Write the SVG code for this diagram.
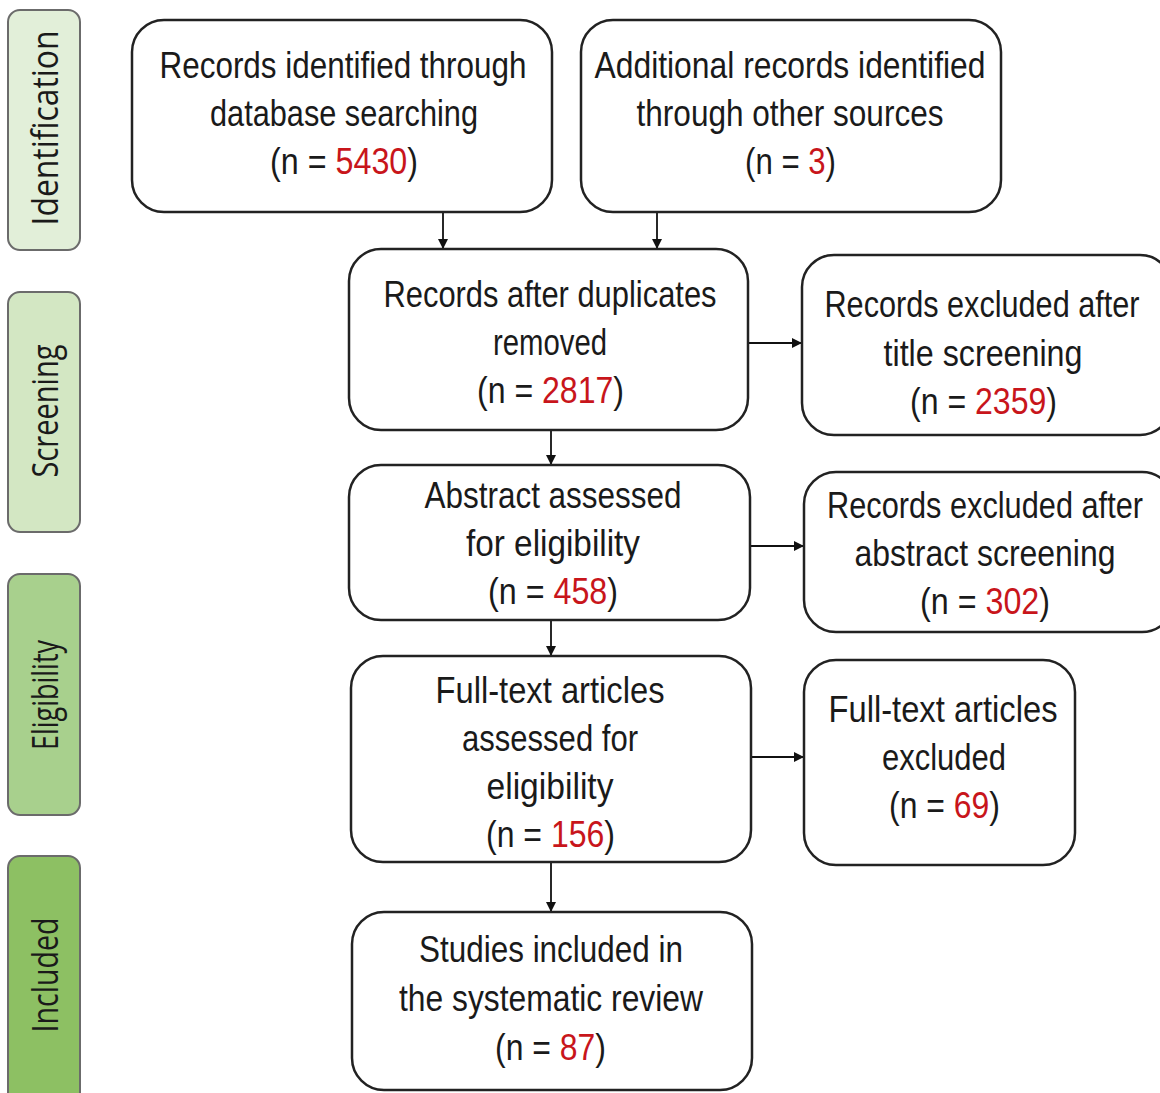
<svg xmlns="http://www.w3.org/2000/svg" width="1160" height="1093" viewBox="0 0 1160 1093">
<style>
.node{fill:#fff;stroke:#222;stroke-width:2.5}
.phase{stroke:#6b6b6b;stroke-width:2}
.t{font-family:"Liberation Sans Narrow","Liberation Sans",Arial,sans-serif;font-size:37px;fill:#1a1a1a;text-anchor:middle}
.s{font-family:"Liberation Sans Narrow","Liberation Sans",Arial,sans-serif;font-size:37px;fill:#1a1a1a;text-anchor:start}
.n{fill:#c8151b}
.pt{font-family:"Open Sans","Liberation Sans",sans-serif;font-size:36px;fill:#1a1a1a;text-anchor:middle}
.edge{stroke:#111;stroke-width:1.8;fill:none;marker-end:url(#ah)}
</style>
<defs>
<marker id="ah" viewBox="0 0 10 10" refX="10" refY="5" markerWidth="10" markerHeight="10" markerUnits="userSpaceOnUse" orient="auto">
<path d="M0,0 L10,5 L0,10 Z" fill="#111"/>
</marker>
</defs>
<rect width="1160" height="1093" fill="#fff"/>

<g id="phase-identification">
<rect class="phase" x="8" y="10" width="72" height="240" rx="12" fill="#e2efd9"/>
<text class="pt" transform="translate(58,128) rotate(-90)" textLength="195" lengthAdjust="spacingAndGlyphs">Identification</text>
</g>
<g id="phase-screening">
<rect class="phase" x="8" y="292" width="72" height="240" rx="12" fill="#d3e7c3"/>
<text class="pt" transform="translate(58,411) rotate(-90)" textLength="133" lengthAdjust="spacingAndGlyphs">Screening</text>
</g>
<g id="phase-eligibility">
<rect class="phase" x="8" y="574" width="72" height="241" rx="12" fill="#a8d08d"/>
<text class="pt" transform="translate(58,695) rotate(-90)" textLength="110" lengthAdjust="spacingAndGlyphs">Eligibility</text>
</g>
<g id="phase-included">
<rect class="phase" x="8" y="856" width="72" height="250" rx="12" fill="#8dc063"/>
<text class="pt" transform="translate(58,975) rotate(-90)" textLength="115" lengthAdjust="spacingAndGlyphs">Included</text>
</g>

<g id="connectors">
<path class="edge" d="M443,212 V249"/>
<path class="edge" d="M657,212 V249"/>
<path class="edge" d="M551,430 V465"/>
<path class="edge" d="M551,620 V656"/>
<path class="edge" d="M551,862 V912"/>
<path class="edge" d="M748,343 H802"/>
<path class="edge" d="M750,546 H804"/>
<path class="edge" d="M751,757 H804"/>
</g>

<g id="node-db">
<rect class="node" x="132" y="20" width="420" height="192" rx="32"/>
<text class="t" x="343" y="78" textLength="367" lengthAdjust="spacingAndGlyphs">Records identified through</text>
<text class="t" x="344" y="126" textLength="268" lengthAdjust="spacingAndGlyphs">database searching</text>
<text class="s" x="270" y="174" textLength="56.5" lengthAdjust="spacingAndGlyphs">(n =</text>
<text class="s n" x="335.5" y="174" textLength="71.8" lengthAdjust="spacingAndGlyphs">5430</text>
<text class="s" x="407.3" y="174" textLength="10.7" lengthAdjust="spacingAndGlyphs">)</text>
</g>
<g id="node-other">
<rect class="node" x="581" y="20" width="420" height="192" rx="32"/>
<text class="t" x="790" y="78" textLength="391" lengthAdjust="spacingAndGlyphs">Additional records identified</text>
<text class="t" x="790" y="126" textLength="307" lengthAdjust="spacingAndGlyphs">through other sources</text>
<text class="s" x="745" y="174" textLength="54.6" lengthAdjust="spacingAndGlyphs">(n =</text>
<text class="s n" x="808.3" y="174" textLength="17.3" lengthAdjust="spacingAndGlyphs">3</text>
<text class="s" x="825.6" y="174" textLength="10.4" lengthAdjust="spacingAndGlyphs">)</text>
</g>
<g id="node-dedup">
<rect class="node" x="349" y="249" width="399" height="181" rx="32"/>
<text class="t" x="550" y="307" textLength="333" lengthAdjust="spacingAndGlyphs">Records after duplicates</text>
<text class="t" x="550" y="355" textLength="114" lengthAdjust="spacingAndGlyphs">removed</text>
<text class="s" x="477" y="403" textLength="56.1" lengthAdjust="spacingAndGlyphs">(n =</text>
<text class="s n" x="542" y="403" textLength="71.3" lengthAdjust="spacingAndGlyphs">2817</text>
<text class="s" x="613.3" y="403" textLength="10.7" lengthAdjust="spacingAndGlyphs">)</text>
</g>
<g id="node-excl-title">
<rect class="node" x="802" y="255" width="370" height="180" rx="32"/>
<text class="t" x="982" y="317" textLength="315" lengthAdjust="spacingAndGlyphs">Records excluded after</text>
<text class="t" x="983" y="366" textLength="199" lengthAdjust="spacingAndGlyphs">title screening</text>
<text class="s" x="910" y="414" textLength="56.1" lengthAdjust="spacingAndGlyphs">(n =</text>
<text class="s n" x="975" y="414" textLength="71.3" lengthAdjust="spacingAndGlyphs">2359</text>
<text class="s" x="1046.3" y="414" textLength="10.7" lengthAdjust="spacingAndGlyphs">)</text>
</g>
<g id="node-abstract">
<rect class="node" x="349" y="465" width="401" height="155" rx="32"/>
<text class="t" x="553" y="508" textLength="257" lengthAdjust="spacingAndGlyphs">Abstract assessed</text>
<text class="t" x="553" y="556" textLength="174" lengthAdjust="spacingAndGlyphs">for eligibility</text>
<text class="s" x="488" y="604" textLength="56.5" lengthAdjust="spacingAndGlyphs">(n =</text>
<text class="s n" x="553.5" y="604" textLength="53.8" lengthAdjust="spacingAndGlyphs">458</text>
<text class="s" x="607.3" y="604" textLength="10.7" lengthAdjust="spacingAndGlyphs">)</text>
</g>
<g id="node-excl-abstract">
<rect class="node" x="804" y="472" width="370" height="160" rx="32"/>
<text class="t" x="985" y="518" textLength="316" lengthAdjust="spacingAndGlyphs">Records excluded after</text>
<text class="t" x="985" y="566" textLength="261" lengthAdjust="spacingAndGlyphs">abstract screening</text>
<text class="s" x="920" y="614" textLength="56.5" lengthAdjust="spacingAndGlyphs">(n =</text>
<text class="s n" x="985.5" y="614" textLength="53.8" lengthAdjust="spacingAndGlyphs">302</text>
<text class="s" x="1039.3" y="614" textLength="10.7" lengthAdjust="spacingAndGlyphs">)</text>
</g>
<g id="node-fulltext">
<rect class="node" x="351" y="656" width="400" height="206" rx="32"/>
<text class="t" x="550" y="703" textLength="229" lengthAdjust="spacingAndGlyphs">Full-text articles</text>
<text class="t" x="550" y="751" textLength="176" lengthAdjust="spacingAndGlyphs">assessed for</text>
<text class="t" x="550" y="799" textLength="127" lengthAdjust="spacingAndGlyphs">eligibility</text>
<text class="s" x="486" y="847" textLength="56" lengthAdjust="spacingAndGlyphs">(n =</text>
<text class="s n" x="550.9" y="847" textLength="53.4" lengthAdjust="spacingAndGlyphs">156</text>
<text class="s" x="604.3" y="847" textLength="10.7" lengthAdjust="spacingAndGlyphs">)</text>
</g>
<g id="node-excl-fulltext">
<rect class="node" x="804" y="660" width="271" height="205" rx="32"/>
<text class="t" x="943" y="722" textLength="229" lengthAdjust="spacingAndGlyphs">Full-text articles</text>
<text class="t" x="944" y="770" textLength="124" lengthAdjust="spacingAndGlyphs">excluded</text>
<text class="s" x="889" y="818" textLength="55.9" lengthAdjust="spacingAndGlyphs">(n =</text>
<text class="s n" x="953.8" y="818" textLength="35.5" lengthAdjust="spacingAndGlyphs">69</text>
<text class="s" x="989.3" y="818" textLength="10.7" lengthAdjust="spacingAndGlyphs">)</text>
</g>
<g id="node-included">
<rect class="node" x="352" y="912" width="400" height="178" rx="32"/>
<text class="t" x="551" y="962" textLength="264" lengthAdjust="spacingAndGlyphs">Studies included in</text>
<text class="t" x="551" y="1011" textLength="304" lengthAdjust="spacingAndGlyphs">the systematic review</text>
<text class="s" x="495" y="1060" textLength="55.9" lengthAdjust="spacingAndGlyphs">(n =</text>
<text class="s n" x="559.8" y="1060" textLength="35.5" lengthAdjust="spacingAndGlyphs">87</text>
<text class="s" x="595.3" y="1060" textLength="10.7" lengthAdjust="spacingAndGlyphs">)</text>
</g>
</svg>
